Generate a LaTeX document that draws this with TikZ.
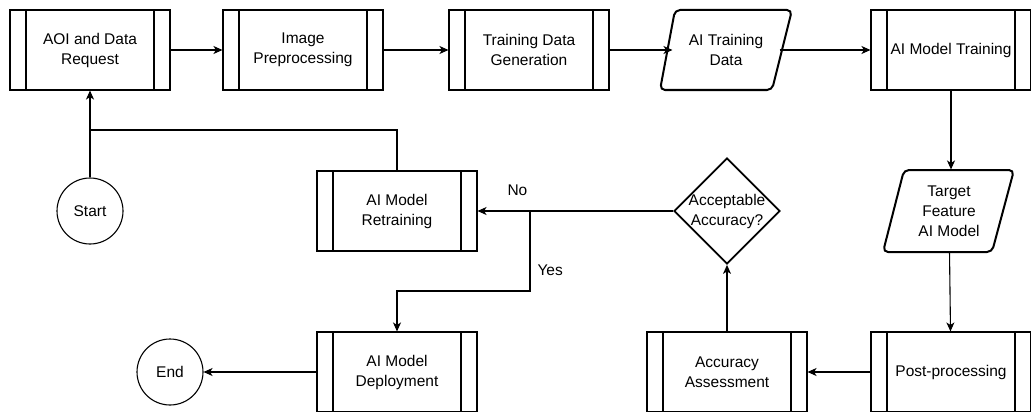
\documentclass[tikz,border=0pt]{standalone}
\usepackage{fontspec}
\setmainfont{Liberation Sans}
\usetikzlibrary{shapes.geometric,arrows.meta}
\tikzset{
  base/.style={font=\fontsize{15.5}{20}\selectfont, align=center, inner sep=0pt},
  proc/.style={base, draw, minimum width=160pt, minimum height=80pt,
    path picture={\draw[line width=1.1pt]
      ([xshift=16pt]path picture bounding box.north west) -- ([xshift=16pt]path picture bounding box.south west)
      ([xshift=-16pt]path picture bounding box.north east) -- ([xshift=-16pt]path picture bounding box.south east);}},
  paratext/.style={base, minimum width=106pt, minimum height=80pt},
  paraline/.style={draw, line width=2pt, rounded corners=5pt, line join=round},
  term/.style={base, draw, circle, minimum size=66pt},
  dec/.style={draw, diamond, minimum width=106pt, minimum height=106pt, inner sep=0pt, line width=1.8pt},
  arr/.style={-{Stealth[length=9pt,width=8pt,inset=2.5pt]}},
  lbl/.style={base, anchor=west}
}
\begin{document}
\begin{tikzpicture}[x=1pt, y=-1pt, line width=1.1pt]
\useasboundingbox (0,0) rectangle (1031,412);
\node[proc] (aoi) at (90,50) {AOI and Data\\Request};
\node[proc] (img) at (303,50) {Image\\Preprocessing};
\node[proc] (tdg) at (529,50) {Training Data\\Generation};
\node[paratext] (aid) at (726,50) {AI Training\\Data};
\draw[paraline, shift={(aid.center)}] (-51,-40) -- (66,-40) -- (46,40) -- (-66,40) -- cycle;
\node[proc] (amt) at (951,50) {AI Model Training};
\node[paratext, minimum height=82pt] (tfm) at (949,211) {Target\\Feature\\AI Model};
\draw[paraline, shift={(tfm.center)}] (-45,-41) -- (65,-41) -- (43,41) -- (-66,41) -- cycle;
\node[proc] (pp) at (951,372) {Post-processing};
\node[proc] (aa) at (727,372) {Accuracy\\Assessment};
\node[dec, label={[base]center:Acceptable\\Accuracy?}] (acc) at (727,211) {};
\node[proc] (ret) at (397,211) {AI Model\\Retraining};
\node[proc] (dep) at (397,372) {AI Model\\Deployment};
\node[term] (start) at (90,211) {Start};
\node[term] (end) at (170,372) {End};
\coordinate (j) at (90,130);
\coordinate (br) at (530,211);
\draw[arr] (start) -- (aoi);
\draw (ret) |- (j);
\draw[arr] (aoi) -- (img);
\draw[arr] (img) -- (tdg);
\draw[arr] (tdg) -- (aid);
\draw[arr] (aid) -- (amt);
\draw[arr] (amt) -- (amt |- tfm.north);
\draw[arr] (tfm) -- (pp);
\draw[arr] (pp) -- (aa);
\draw[arr] (aa) -- (acc);
\draw[arr] (acc) -- (ret);
\draw[arr] (br) -- ++(0,80) -| (dep);
\draw[arr] (dep) -- (end);
\node[lbl] (no) at (507,190) {No};
\node[lbl] (yes) at (537,270) {Yes};
\end{tikzpicture}
\end{document}
